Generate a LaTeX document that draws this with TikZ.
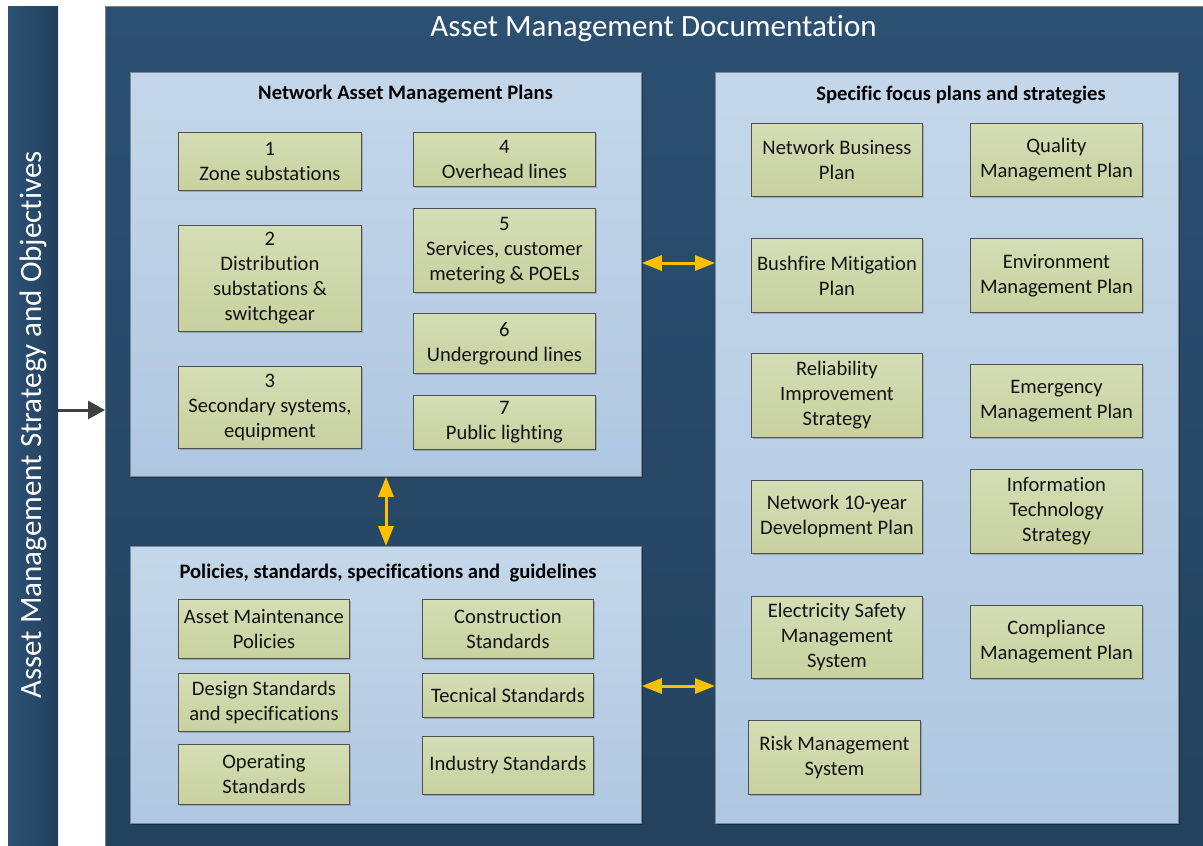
\documentclass[tikz,border=0pt]{standalone}
\usepackage{fontspec}
\setmainfont{Carlito}[Ligatures={NoCommon,NoRequired,NoContextual}, Contextuals=NoAlternate]
\usetikzlibrary{arrows.meta,shadows}
\definecolor{navytop}{HTML}{2C5072}
\definecolor{navybot}{HTML}{23425E}
\definecolor{barleft}{HTML}{2C5276}
\definecolor{barright}{HTML}{233F5C}
\definecolor{paneltop}{HTML}{C4D7EA}
\definecolor{panelbot}{HTML}{AFC8E1}
\definecolor{panelline}{HTML}{7D8893}
\definecolor{gtop}{HTML}{D5DDB5}
\definecolor{gbot}{HTML}{C8D19E}
\definecolor{gline}{HTML}{505050}
\definecolor{gold}{HTML}{FFC000}
\definecolor{darkarrow}{HTML}{404040}
\tikzset{
  gbox/.style={draw=gline, line width=0.9pt, top color=gtop, bottom color=gbot,
    align=center, inner sep=1pt, anchor=north west, text=black!92,
    font=\fontsize{20.6}{25}\selectfont,
    drop shadow={shadow xshift=1.5pt, shadow yshift=-1.5pt, fill=black, opacity=0.18}},
  panel/.style={draw=panelline, line width=0.8pt, top color=paneltop, bottom color=panelbot,
    anchor=north west, inner sep=0pt,
    drop shadow={shadow xshift=1.5pt, shadow yshift=-1.5pt, fill=black, opacity=0.3}},
  header/.style={font=\fontsize{20.6}{24}\selectfont\bfseries, text=black, inner sep=0pt},
  goldarrow/.style={draw=gold, line width=3pt, {Triangle[length=20pt,width=15pt]}-{Triangle[length=20pt,width=15pt]}},
}
\begin{document}
\begin{tikzpicture}[x=1pt,y=-1pt]
\useasboundingbox (0,0) rectangle (1203,846);
\fill[white] (0,0) rectangle (1203,846);
% left bar
\node[anchor=north west, minimum width=50pt, minimum height=840pt, inner sep=0pt,
  left color=barleft, right color=barright] (bar) at (8,6) {};
\node[rotate=90, text=white, font=\fontsize{31}{36}\selectfont, inner sep=0pt] (bartext) at (33,425)
  {Asset Management Strategy and Objectives};
% main box
\node[anchor=north west, minimum width=1098pt, minimum height=840pt, inner sep=0pt,
  top color=navytop, bottom color=navybot, draw=black!50, line width=0.5pt] (main) at (105,6) {};
\node[text=white, font=\fontsize{31}{36}\selectfont, inner sep=0pt] (title) at (653.5,28)
  {Asset Management Documentation};
% panels
\node[panel, minimum width=511pt, minimum height=404pt] (namp) at (130,72) {};
\node[panel, minimum width=511pt, minimum height=277pt] (pol) at (130,546) {};
\node[panel, minimum width=463pt, minimum height=751pt] (spec) at (715,72) {};
\node[header] (hnamp) at (405.5,94) {Network Asset Management Plans};
\node[header] (hpol) at (388,573) {Policies, standards, specifications and\ \ guidelines};
\node[header] (hspec) at (961,95) {Specific focus plans and strategies};
% network asset management plans
\node[gbox, minimum width=183pt, minimum height=58pt] (z1) at (178,132) {1\\Zone substations};
\node[gbox, minimum width=183pt, minimum height=106pt] (z2) at (178,225) {2\\Distribution\\substations \&\\switchgear};
\node[gbox, minimum width=183pt, minimum height=82pt] (z3) at (178,366) {3\\Secondary systems,\\equipment};
\node[gbox, minimum width=182pt, minimum height=54pt] (z4) at (413,132) {4\\Overhead lines};
\node[gbox, minimum width=182pt, minimum height=84pt] (z5) at (413,208) {5\\Services, customer\\metering \& POELs};
\node[gbox, minimum width=182pt, minimum height=60pt] (z6) at (413,313) {6\\Underground lines};
\node[gbox, minimum width=182pt, minimum height=54pt] (z7) at (413,395) {7\\Public lighting};
% policies
\node[gbox, minimum width=171pt, minimum height=59pt] (p1) at (178,599) {Asset Maintenance\\Policies};
\node[gbox, minimum width=171pt, minimum height=58pt] (p2) at (178,673) {Design Standards\\and specifications};
\node[gbox, minimum width=171pt, minimum height=60pt] (p3) at (178,744) {Operating\\Standards};
\node[gbox, minimum width=171pt, minimum height=59pt] (p4) at (422,599) {Construction\\Standards};
\node[gbox, minimum width=171pt, minimum height=44pt] (p5) at (422,673) {Tecnical Standards};
\node[gbox, minimum width=171pt, minimum height=58pt] (p6) at (422,736) {Industry Standards};
% specific focus
\node[gbox, minimum width=171pt, minimum height=73pt] (s1) at (751,123) {Network Business\\Plan};
\node[gbox, minimum width=172pt, minimum height=73pt] (s2) at (970,123) {Quality\\Management Plan};
\node[gbox, minimum width=171pt, minimum height=74pt] (s3) at (751,238) {Bushfire Mitigation\\Plan};
\node[gbox, minimum width=172pt, minimum height=74pt] (s4) at (970,238) {Environment\\Management Plan};
\node[gbox, minimum width=171pt, minimum height=84pt] (s5) at (751,353) {Reliability\\Improvement\\Strategy};
\node[gbox, minimum width=172pt, minimum height=73pt] (s6) at (970,364) {Emergency\\Management Plan};
\node[gbox, minimum width=171pt, minimum height=73pt] (s7) at (751,480) {Network 10-year\\Development Plan};
\node[gbox, minimum width=172pt, minimum height=84pt] (s8) at (970,469) {Information\\Technology\\Strategy};
\node[gbox, minimum width=171pt, minimum height=82pt] (s9) at (751,596) {Electricity Safety\\Management\\System};
\node[gbox, minimum width=172pt, minimum height=73pt] (s10) at (970,605) {Compliance\\Management Plan};
\node[gbox, minimum width=172pt, minimum height=74pt] (s11) at (748,720) {Risk Management\\System};
% connectors
\draw[draw=darkarrow, line width=3pt, -{Triangle[length=17pt,width=18pt]}]
  (bar.east |- 0,410) -- (main.west |- 0,410);
\draw[goldarrow] (namp.east |- 0,263) -- (spec.west |- 0,263);
\draw[goldarrow] (pol.east |- 0,686) -- (spec.west |- 0,686);
\draw[goldarrow] (namp.south -| 386,0) -- (pol.north -| 386,0);
\end{tikzpicture}
\end{document}
